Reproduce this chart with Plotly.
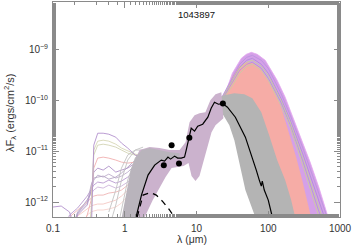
import plotly.graph_objects as go

# ---------------- data ----------------
# observed SED points
obs_wl = [3.5, 4.5, 5.7, 7.95, 23.3]
obs_flux = [5.3e-12, 1.31e-11, 5.7e-12, 1.83e-11, 8.6e-11]

# best-fit model (solid black)
fit_wl = [1.44, 1.71, 2.11, 2.61, 3.23, 3.59, 4.0, 4.35, 4.95, 5.45, 6.13, 6.81, 7.19,
          7.92, 8.44, 9.4, 10.4, 12.2, 14.4, 16.0, 17.8, 20.2, 23.2, 27.0, 34.8, 48.0,
          60.0, 68.1, 75.0, 80.0, 82.6, 88.0, 100.0, 114.0]
fit_flux = [5.08e-13, 1.37e-12, 3.38e-12, 5.31e-12, 6.67e-12, 6.38e-12, 7.62e-12, 6.97e-12,
            7.98e-12, 7.29e-12, 7.29e-12, 7.62e-12, 1.05e-11, 1.82e-11, 2.82e-11, 2.47e-11,
            3.09e-11, 3.38e-11, 4.64e-11, 6.97e-11, 9.13e-11, 8.35e-11, 8.6e-11, 7.29e-11,
            4.64e-11, 1.88e-11, 7.62e-12, 4.24e-12, 2.70e-12, 2.06e-12, 2.58e-12, 1.72e-12,
            1.09e-12, 5.08e-13]

# stellar photosphere (dashed)
star_wl = [1.49, 1.67, 1.80, 2.11, 2.37, 2.75, 3.41, 4.22, 4.95, 5.81]
star_flux = [5.08e-13, 9.55e-13, 1.37e-12, 1.48e-12, 1.50e-12, 1.37e-12, 1.01e-12,
             6.97e-13, 5.1e-13, 3.5e-13]

# envelope of purple models
purple_wl = [17.2, 21.5, 26.1, 31.6, 42.2, 49.5, 58.1, 70.3, 90.8, 133, 172, 202, 278, 383,
             511, 600, 681, 167, 88, 58.1, 37.1, 22.2]
purple_flux = [6.37e-11, 1.0e-10, 1.57e-10, 3.38e-10, 6.67e-10, 7.98e-10, 8.73e-10, 7.98e-10,
               6.09e-10, 2.47e-10, 1.15e-10, 6.37e-11, 2.06e-11, 6.09e-12, 1.88e-12, 9.55e-13,
               5.08e-13, 5.08e-13, 6.67e-12, 6.37e-11, 1.25e-10, 7.98e-11]

# envelope of pink models
pink_wl = [18.4, 21.5, 26.1, 31.6, 39.6, 49.5, 61.9, 77.4, 96.8, 125, 156, 196, 245, 297,
           348, 395, 103, 63.9, 46.4, 33.7, 22.2]
pink_flux = [7.62e-11, 9.55e-11, 1.50e-10, 2.96e-10, 4.64e-10, 5.56e-10, 5.31e-10, 4.24e-10,
             2.58e-10, 1.44e-10, 6.37e-11, 2.25e-11, 7.62e-12, 2.70e-12, 1.09e-12, 5.08e-13,
             5.08e-13, 4.24e-12, 2.58e-11, 6.37e-11, 6.97e-11]

# envelope of grey models (far infrared)
grey_wl = [18.4, 24.5, 33.7, 46.4, 60.0, 80.0, 103, 133, 172, 209, 237, 65.9, 48.0, 38.3,
           33.7, 28.7, 23.7, 18.4]
grey_flux = [1.09e-10, 1.25e-10, 1.37e-10, 1.31e-10, 1.09e-10, 5.82e-11, 2.06e-11, 6.67e-12,
             2.70e-12, 1.09e-12, 5.08e-13, 5.08e-13, 1.72e-12, 6.67e-12, 1.64e-11, 3.24e-11,
             5.08e-11, 5.82e-11]

# envelope of the mid-infrared band
mid_wl = [1.03, 1.14, 1.25, 1.42, 1.61, 2.22, 3.06, 4.22, 5.81, 7.03, 8.0, 9.4, 11.0, 13.3,
          15.6, 18.4, 22.2, 23.7, 18.4, 16.2, 14.2, 12.5, 11.0, 9.68, 8.53, 7.74, 6.59, 5.45,
          4.5, 3.71, 3.06, 2.45, 1.90]
mid_flux = [5.08e-13, 1.37e-12, 3.87e-12, 7.29e-12, 1.05e-11, 1.20e-11, 1.15e-11, 1.05e-11,
            1.05e-11, 1.50e-11, 3.71e-11, 5.08e-11, 5.56e-11, 5.82e-11, 1.0e-10, 1.31e-10,
            1.44e-10, 4.44e-11, 3.24e-11, 2.36e-11, 1.15e-11, 5.82e-12, 3.24e-12, 2.58e-12,
            3.24e-12, 5.82e-12, 5.08e-12, 4.86e-12, 4.64e-12, 3.09e-12, 1.88e-12, 1.09e-12,
            5.08e-13]

# grey part of the near-infrared band
nirgrey_wl = [0.91, 1.07, 1.21, 1.42, 1.72, 2.22, 3.06, 4.22, 5.81, 5.81, 4.22, 3.06, 2.37,
              1.96, 1.67, 1.47]
nirgrey_flux = [5.08e-13, 1.72e-12, 4.24e-12, 7.62e-12, 1.05e-11, 1.15e-11, 1.05e-11, 9.55e-12,
                9.13e-12, 7.29e-12, 6.97e-12, 6.09e-12, 4.24e-12, 2.47e-12, 1.25e-12, 5.08e-13]

# thin grey models rising in the near infrared
nir_wl = [0.6, 0.75, 0.9, 1.1, 1.4, 1.8]
nir_grey_1 = [3e-13, 8.73e-13, 2.70e-12, 6.67e-12, 1.05e-11, 1.20e-11]
nir_grey_2 = [2e-13, 2e-13, 6.97e-13, 2.70e-12, 7.29e-12, 1.05e-11]
nir_grey_3 = [6.37e-13, 1.72e-12, 4.64e-12, 8.35e-12, 1.05e-11, 1.05e-11]

# thin models in the optical
opt_wl = [0.10, 0.13, 0.17, 0.22, 0.30, 0.34, 0.37, 0.42, 0.5, 0.6, 0.75, 0.9, 1.1, 1.4, 1.8, 2.3]
opt_purple_1 = [7.98e-13, 8.35e-13, 6.37e-13, 2e-13, 2e-13, 2e-13, 1.31e-11, 2.25e-11, 2.25e-11,
                2.15e-11, 1.88e-11, 1.44e-11, 1.15e-11, 8.35e-12, 7.29e-12, 6.67e-12]
opt_green_1 = [2e-13, 2e-13, 2e-13, 2e-13, 2e-13, 5.56e-13, 1.05e-11, 1.57e-11, 1.64e-11,
               1.57e-11, 1.37e-11, 1.15e-11, 1.0e-11, 8.73e-12, 7.98e-12, 7.62e-12]
opt_green_2 = [2e-13, 2e-13, 2e-13, 2e-13, 2e-13, 6.37e-13, 8.35e-12, 1.31e-11, 1.37e-11,
               1.31e-11, 1.20e-11, 1.05e-11, 9.13e-12, 8.35e-12, 7.62e-12, 7.29e-12]
opt_pink_1 = [2e-13, 2e-13, 2e-13, 2e-13, 5.56e-13, 1.09e-12, 4.64e-12, 7.29e-12, 7.62e-12,
              7.29e-12, 6.67e-12, 6.09e-12, 5.82e-12, 6.09e-12, 6.67e-12, 7.29e-12]
opt_purple_2 = [2e-13, 2e-13, 2e-13, 5.56e-13, 8.73e-13, 1.72e-12, 3.87e-12, 4.64e-12, 4.24e-12,
                5.08e-12, 3.87e-12, 4.24e-12, 4.64e-12, 5.82e-12, 7.29e-12, 7.62e-12]
opt_mauve_1 = [2e-13, 2e-13, 2e-13, 6.37e-13, 1.09e-12, 1.57e-12, 2.70e-12, 3.38e-12, 3.09e-12,
               3.54e-12, 2.96e-12, 3.24e-12, 3.87e-12, 5.31e-12, 6.67e-12, 7.62e-12]
opt_purple_3 = [2e-13, 2e-13, 5.56e-13, 7.62e-13, 1.31e-12, 1.72e-12, 2.15e-12, 2.47e-12,
                2.36e-12, 2.70e-12, 2.36e-12, 2.58e-12, 3.09e-12, 4.24e-12, 6.09e-12, 7.29e-12]
opt_purple_4 = [2e-13, 2e-13, 2e-13, 5.82e-13, 1.09e-12, 1.37e-12, 1.72e-12, 1.97e-12, 1.88e-12,
                2.15e-12, 1.88e-12, 2.06e-12, 2.47e-12, 3.38e-12, 5.31e-12, 6.67e-12]
opt_pink_2 = [2e-13, 2e-13, 5.08e-13, 6.97e-13, 1.0e-12, 1.20e-12, 1.31e-12, 1.37e-12, 1.37e-12,
              1.50e-12, 1.57e-12, 1.72e-12, 2.15e-12, 3.24e-12, 5.08e-12, 6.67e-12]
opt_pink_3 = [2e-13, 2e-13, 2e-13, 5.31e-13, 7.29e-13, 8.35e-13, 8.73e-13, 9.13e-13, 9.13e-13,
              1.0e-12, 1.09e-12, 1.31e-12, 1.72e-12, 2.70e-12, 4.64e-12, 6.09e-12]
opt_pink_4 = [2e-13, 2e-13, 2e-13, 2e-13, 5.56e-13, 6.37e-13, 6.67e-13, 6.97e-13, 6.97e-13,
              7.29e-13, 7.98e-13, 9.55e-13, 1.31e-12, 2.06e-12, 3.87e-12, 5.56e-12]
opt_mauve_2 = [2e-13, 2e-13, 2e-13, 6.09e-13, 9.55e-13, 2.15e-12, 2.96e-12, 3.09e-12, 3.24e-12,
               2.82e-12, 3.09e-12, 3.71e-12, 4.86e-12, 6.67e-12, 8.35e-12, 9.13e-12]

# individual far-infrared models drawn over the envelopes
fir_wl = [20, 30, 40, 50, 60, 80, 100, 150, 200, 300, 500, 700]
fir_purple_1 = [8.35e-11, 2.47e-10, 5.08e-10, 6.97e-10, 7.62e-10, 6.09e-10, 4.24e-10, 1.37e-10,
                5.31e-11, 1.20e-11, 1.57e-12, 4.06e-13]
fir_purple_2 = [7.98e-11, 2.25e-10, 4.44e-10, 6.09e-10, 6.67e-10, 5.08e-10, 3.38e-10, 1.09e-10,
                4.24e-11, 9.13e-12, 1.09e-12, 2.82e-13]
fir_green_1 = [7.98e-11, 2.15e-10, 4.24e-10, 5.56e-10, 6.09e-10, 4.64e-10, 3.09e-10, 1.0e-10,
               3.87e-11, 7.62e-12, 8.73e-13, 2.0e-13]
fir_purple_3 = [7.62e-11, 1.97e-10, 3.87e-10, 5.08e-10, 5.56e-10, 4.24e-10, 2.70e-10, 9.13e-11,
                3.38e-11, 6.67e-12, 6.97e-13, 2.0e-13]
fir_green_2 = [7.62e-11, 1.72e-10, 3.38e-10, 4.64e-10, 5.08e-10, 3.87e-10, 2.47e-10, 7.98e-11,
               3.09e-11, 5.56e-12, 5.56e-13, 2.0e-13]

x_ticks = [0.1, 1, 10, 100, 1000]
x_tick_text = ["0.1", "1", "10", "100", "1000"]
y_ticks = [1e-12, 1e-11, 1e-10, 1e-9]
y_tick_text = ["10<sup>\u221212</sup>", "10<sup>\u221211</sup>", "10<sup>\u221210</sup>",
               "10<sup>\u22129</sup>"]
title_text = "1043897"
x_title = "\u03bb (\u03bcm)"
y_title = "\u03bbF<sub>\u03bb</sub> (ergs/cm<sup>2</sup>/s)"

# ---------------- figure ----------------
fig = go.Figure()


def thin(x, y, color, width=0.9):
    fig.add_trace(go.Scatter(x=x, y=y, mode="lines", line=dict(color=color, width=width),
                             hoverinfo="skip", showlegend=False))


def poly(x, y, color, edge=None):
    fig.add_trace(go.Scatter(x=x, y=y, mode="lines", fill="toself", fillcolor=color,
                             line=dict(color=edge or color, width=0.8 if edge else 0),
                             hoverinfo="skip", showlegend=False))


opt_lines = [
    (opt_pink_4, "rgb(246,210,205)"),
    (opt_pink_3, "rgb(244,200,196)"),
    (opt_pink_2, "rgb(238,180,180)"),
    (opt_purple_4, "rgb(205,180,218)"),
    (opt_purple_3, "rgb(185,155,208)"),
    (opt_mauve_1, "rgb(190,175,205)"),
    (opt_mauve_2, "rgb(180,165,195)"),
    (opt_purple_2, "rgb(175,145,200)"),
    (opt_pink_1, "rgb(240,175,175)"),
    (opt_green_2, "rgb(210,212,180)"),
    (opt_green_1, "rgb(215,215,182)"),
    (opt_purple_1, "rgb(178,145,205)"),
]
for vals, col in opt_lines:
    thin(opt_wl, vals, col)

for vals in (nir_grey_1, nir_grey_2, nir_grey_3):
    thin(nir_wl, vals, "rgb(195,195,195)")

poly(purple_wl, purple_flux, "rgb(212,160,232)", "rgb(228,168,240)")
poly(pink_wl, pink_flux, "rgb(246,172,166)")
thin(fir_wl, fir_purple_1, "rgb(190,150,225)", 1.0)
thin(fir_wl, fir_purple_2, "rgb(180,145,220)", 1.0)
thin(fir_wl, fir_green_1, "rgb(200,205,160)", 1.0)
thin(fir_wl, fir_purple_3, "rgb(185,150,220)", 1.0)
thin(fir_wl, fir_green_2, "rgb(205,200,165)", 1.0)
poly(grey_wl, grey_flux, "rgb(180,180,180)")
poly(mid_wl, mid_flux, "rgb(203,178,205)")
poly(nirgrey_wl, nirgrey_flux, "rgb(185,180,188)")

fig.add_trace(go.Scatter(x=star_wl, y=star_flux, mode="lines",
                         line=dict(color="black", width=1.3, dash="6px,5px"),
                         hoverinfo="skip", showlegend=False))
fig.add_trace(go.Scatter(x=fit_wl, y=fit_flux, mode="lines",
                         line=dict(color="black", width=1.2),
                         hoverinfo="skip", showlegend=False))
fig.add_trace(go.Scatter(x=obs_wl, y=obs_flux, mode="markers",
                         marker=dict(color="black", size=6),
                         hoverinfo="skip", showlegend=False))

axis_col = "#8a8a8a"
font = "Liberation Sans, Arial, sans-serif"
txt = "#333"
fig.update_xaxes(type="log", range=[-1, 3], showgrid=False, zeroline=False, automargin=False,
                 showline=True, linecolor=axis_col, linewidth=1, mirror="allticks",
                 ticks="inside", ticklen=6, tickcolor=axis_col, tickwidth=1,
                 tickvals=x_ticks, ticktext=x_tick_text, ticklabelstandoff=2,
                 minor=dict(ticks="inside", ticklen=3, tickcolor=axis_col, showgrid=False),
                 tickfont=dict(size=10, color=txt, family=font))
fig.update_yaxes(type="log", range=[-12.294, -8.07], showgrid=False, zeroline=False,
                 automargin=False,
                 showline=True, linecolor=axis_col, linewidth=1, mirror="allticks",
                 ticks="inside", ticklen=6, tickcolor=axis_col, tickwidth=1,
                 tickvals=y_ticks, ticktext=y_tick_text, ticklabelstandoff=2,
                 minor=dict(ticks="inside", ticklen=3, tickcolor=axis_col, showgrid=False),
                 tickfont=dict(size=10, color=txt, family=font))

W, H = 354, 246
L, R, T, B = 53, 14, 2, 29
pw, ph = W - L - R, H - T - B

fig.add_annotation(text=title_text, x=0.5, y=(H - B - 14) / ph, xref="paper", yref="paper",
                   xanchor="center", yanchor="middle",
                   showarrow=False, font=dict(size=9.5, color="#111", family=font))
fig.add_annotation(text=x_title, x=(192 - L) / pw, y=(H - B - 239) / ph, xref="paper",
                   yref="paper", xanchor="center", yanchor="middle", showarrow=False,
                   font=dict(size=10.5, color=txt, family=font))
fig.add_annotation(text=y_title, x=(10 - L) / pw, y=(H - B - 113) / ph, xref="paper",
                   yref="paper", xanchor="center", yanchor="middle", textangle=-90,
                   showarrow=False, font=dict(size=11, color=txt, family=font))

fig.update_layout(width=W, height=H, margin=dict(l=L, r=R, t=T, b=B),
                  paper_bgcolor="white", plot_bgcolor="white")

fig.write_html("out.html", config={"displayModeBar": False},
               post_script="document.body.style.margin='0px';"
                           "document.body.style.overflow='hidden';")
